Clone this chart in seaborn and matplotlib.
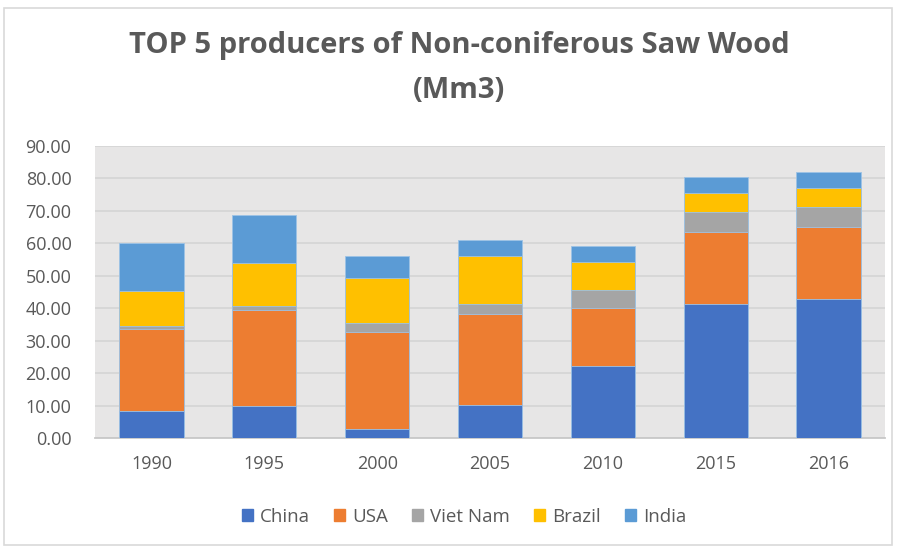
import matplotlib
matplotlib.use("Agg")
import matplotlib.pyplot as plt
import matplotlib.patches as mpatches
import seaborn as sns
import pandas as pd
import numpy as np

years = ["1990", "1995", "2000", "2005", "2010", "2015", "2016"]
countries = ["China", "USA", "Viet Nam", "Brazil", "India"]
china = [8.3, 9.9, 2.8, 10.2, 22.2, 41.3, 42.7]
usa = [25.2, 29.4, 29.8, 28.1, 17.9, 22.3, 22.4]
vietnam = [1.0, 1.5, 2.9, 3.0, 5.6, 6.0, 6.0]
brazil = [10.8, 13.0, 13.9, 14.9, 8.6, 5.9, 5.9]
india = [14.9, 15.0, 6.8, 4.8, 4.8, 4.8, 4.9]
colors = ["#4472C4", "#ED7D31", "#A5A5A5", "#FFC000", "#5B9BD5"]

series = [china, usa, vietnam, brazil, india]
df = pd.DataFrame({"year": years})
cum = np.zeros(len(years))
for name, vals in zip(countries, series):
    cum = cum + np.array(vals)
    df[name] = cum

sns.set_theme(style="white")
plt.rcParams["font.family"] = ["Open Sans", "DejaVu Sans"]

fig = plt.figure(figsize=(8.98, 5.49), dpi=100)
ax = fig.add_axes([95 / 898, 1 - 438 / 549, 790 / 898, 292 / 549])
ax.set_facecolor("#E7E6E6")

for name, col in reversed(list(zip(countries, colors))):
    sns.barplot(data=df, x="year", y=name, order=years, color=col,
                width=0.57, saturation=1, ax=ax, zorder=3,
                edgecolor="#9DC3E6", linewidth=0.6)

ax.set_ylim(0, 90)
ax.set_xlim(-0.5, len(years) - 0.5)
ax.set_yticks(np.arange(0, 91, 10))
ax.set_yticklabels([f"{v:.2f}" for v in np.arange(0, 91, 10)])
ax.yaxis.grid(True, color="#D6D6D6", linewidth=1.3, zorder=0)
ax.set_axisbelow(True)
for s in ["top", "right", "left"]:
    ax.spines[s].set_visible(False)
ax.spines["bottom"].set_color("#C8C8C8")
ax.spines["bottom"].set_linewidth(1.3)
ax.set_xlabel("")
ax.set_ylabel("")
ax.tick_params(axis="both", length=0, labelsize=13, labelcolor="#595959")
ax.tick_params(axis="y", pad=17)
ax.tick_params(axis="x", pad=12)

fig.text(0.5 + 10 / 898, 1 - 45 / 549, "TOP 5 producers of Non-coniferous Saw Wood",
         ha="center", va="center", fontsize=21, fontweight="bold",
         color="#595959")
fig.text(0.5 + 10 / 898, 1 - 90 / 549, "(Mm3)", ha="center", va="center",
         fontsize=21, fontweight="bold", color="#595959")

handles = [mpatches.Patch(color=c, label=n) for n, c in zip(countries, colors)]
fig.legend(handles=handles, loc="center", bbox_to_anchor=(464 / 898, 1 - 517 / 549),
           ncol=5, frameon=False, fontsize=13.5, handlelength=0.6,
           handleheight=0.6, handletextpad=0.35, columnspacing=1.3,
           labelcolor="#595959")

fig.patches.append(mpatches.Rectangle((4 / 898, 4 / 549), 888 / 898, 537 / 549,
                                      transform=fig.transFigure, fill=False,
                                      edgecolor="#D9D9D9", linewidth=1.2))

fig.savefig("out.png", dpi=100)
